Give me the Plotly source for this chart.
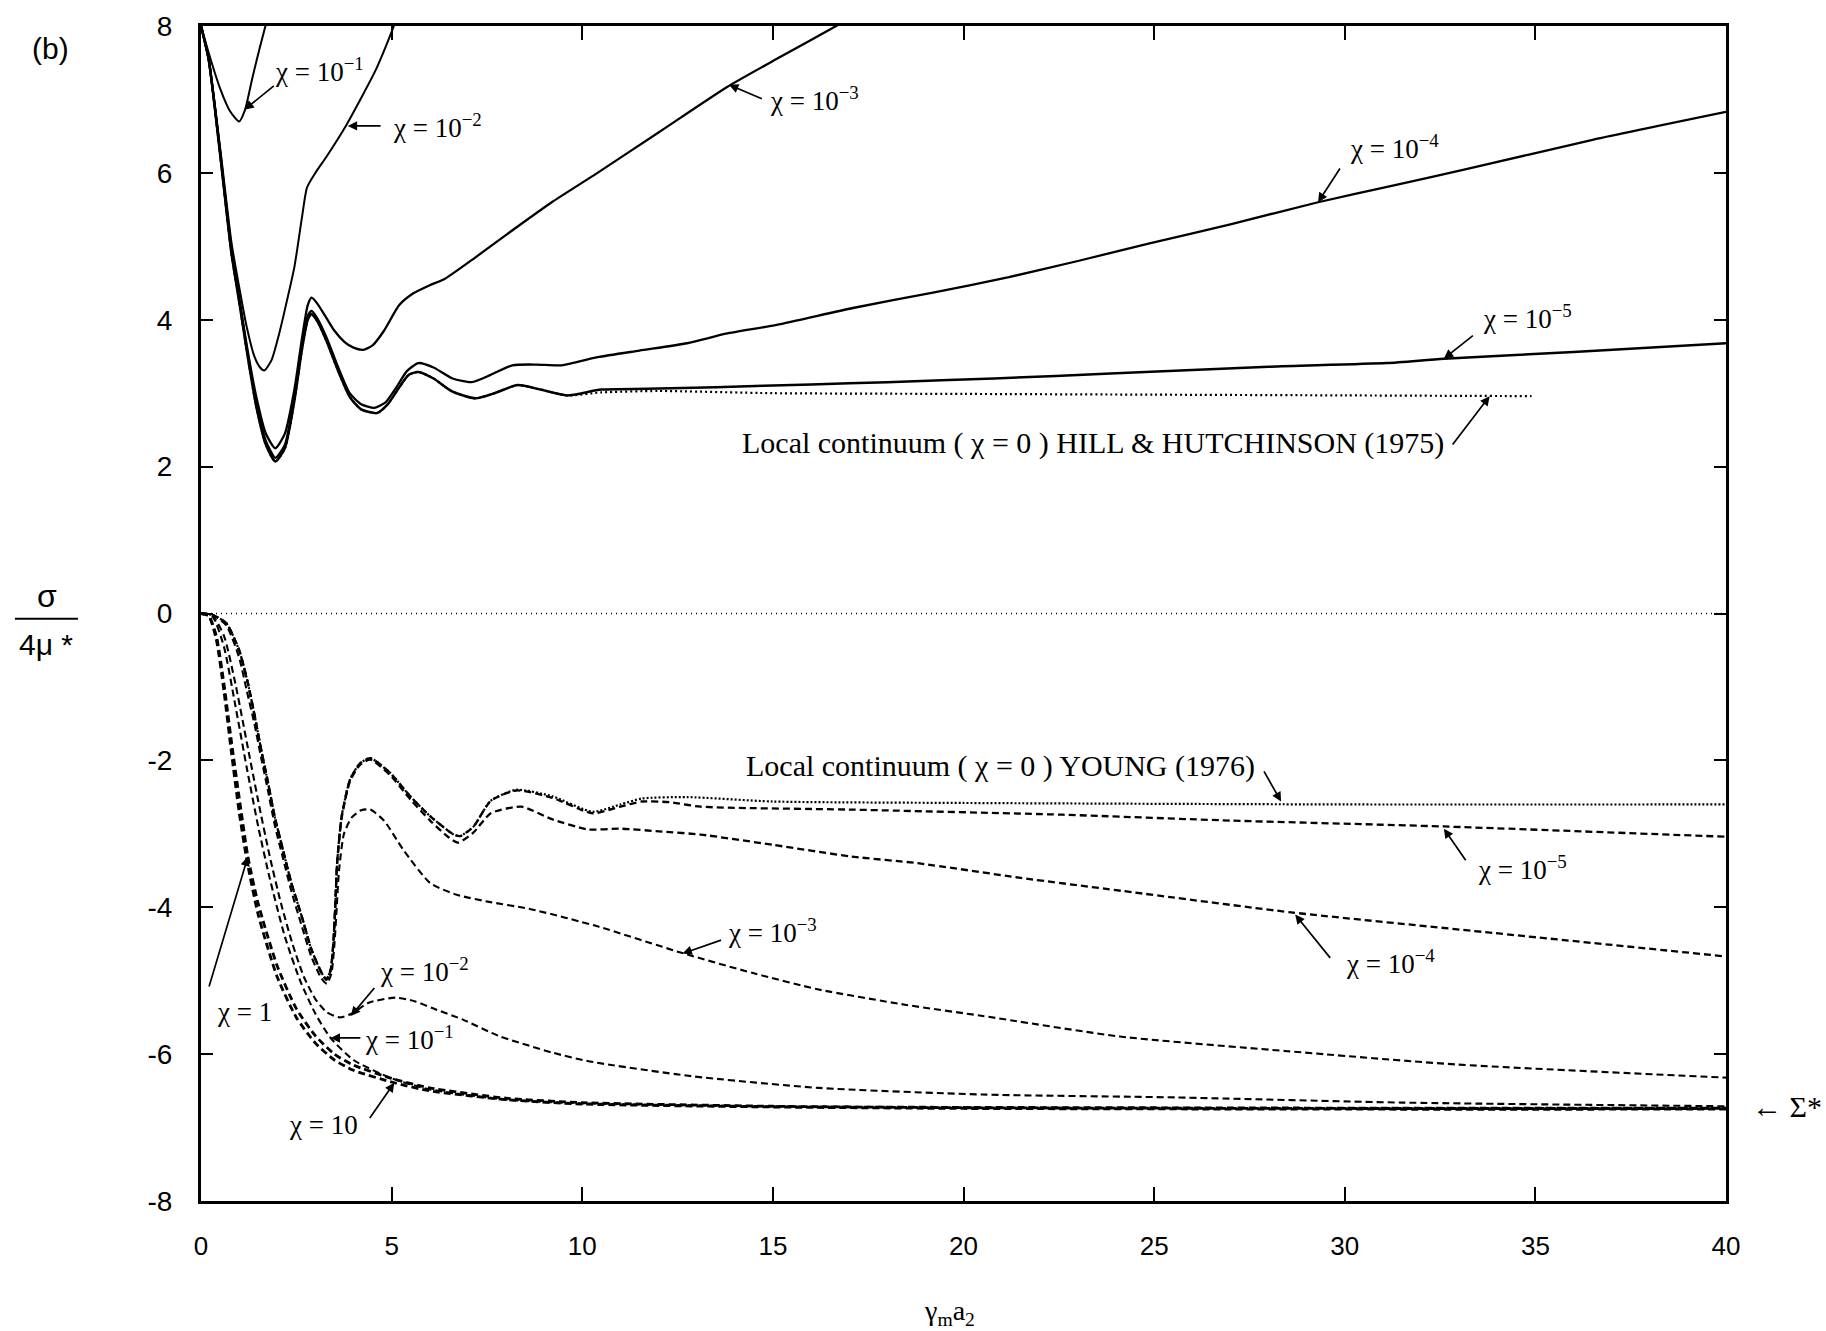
import plotly.graph_objects as go

# ---------------- data ----------------
x_ticks = [0, 5, 10, 15, 20, 25, 30, 35, 40]
x_tick_labels = ["0", "5", "10", "15", "20", "25", "30", "35", "40"]
y_ticks = [-8, -6, -4, -2, 0, 2, 4, 6, 8]
y_tick_labels = ["-8", "-6", "-4", "-2", "0", "2", "4", "6", "8"]

# upper branch (solid)
up_c1_x = [0, 0.25, 0.5, 0.75, 1.0, 1.15, 1.35, 1.55, 1.74]
up_c1_y = [8, 7.55, 7.15, 6.85, 6.7, 6.85, 7.3, 7.72, 8.1]

up_c2_x = [0, 0.2, 0.5, 0.8, 1.0, 1.2, 1.4, 1.55, 1.66, 1.85, 2.05, 2.25, 2.45, 2.65, 2.78, 3.0, 3.29, 3.81, 4.6, 5.03, 5.2]
up_c2_y = [8, 7.55, 6.35, 5.05, 4.45, 3.9, 3.5, 3.35, 3.31, 3.45, 3.81, 4.25, 4.72, 5.4, 5.8, 6.0, 6.22, 6.65, 7.42, 7.96, 8.2]

up_c3_x = [0, 0.2, 0.5, 0.8, 1.0, 1.2, 1.45, 1.7, 1.95, 2.2, 2.45, 2.65, 2.8, 2.9, 3.05, 3.26, 3.5, 3.76, 4.0, 4.25, 4.5, 4.8, 5.2, 5.57, 6.0, 6.4, 7.2, 8.04, 9.2, 10.4, 12.0, 13.8, 15.2, 16.66, 17.0]
up_c3_y = [8, 7.55, 6.3, 4.95, 4.3, 3.65, 2.95, 2.45, 2.25, 2.45, 3.05, 3.75, 4.2, 4.3, 4.22, 4.05, 3.85, 3.7, 3.62, 3.59, 3.65, 3.85, 4.2, 4.36, 4.47, 4.56, 4.85, 5.17, 5.6, 6.0, 6.55, 7.17, 7.58, 8.0, 8.1]

up_c4_x = [0, 0.2, 0.5, 0.8, 1.0, 1.2, 1.45, 1.7, 1.95, 2.2, 2.45, 2.65, 2.8, 2.9, 3.05, 3.3, 3.6, 3.9, 4.2, 4.55, 4.85, 5.15, 5.4, 5.7, 6.1, 6.6, 7.1, 7.6, 8.17, 8.8, 9.46, 10.4, 11.5, 12.75, 13.77, 15.1, 17.1, 19.2, 21.19, 23.0, 24.88, 27.0, 29.3, 31.2, 33.1, 36.5, 40]
up_c4_y = [8, 7.55, 6.28, 4.92, 4.28, 3.62, 2.88, 2.35, 2.12, 2.3, 2.95, 3.65, 4.05, 4.12, 4.02, 3.75, 3.35, 3.0, 2.85, 2.8, 2.88, 3.1, 3.3, 3.41, 3.35, 3.2, 3.15, 3.25, 3.38, 3.39, 3.38, 3.49, 3.58, 3.68, 3.81, 3.93, 4.16, 4.37, 4.58, 4.8, 5.04, 5.3, 5.6, 5.82, 6.04, 6.45, 6.83]

up_c5_x = [0, 0.2, 0.5, 0.8, 1.0, 1.2, 1.45, 1.7, 1.95, 2.2, 2.45, 2.65, 2.8, 2.9, 3.05, 3.3, 3.6, 3.9, 4.2, 4.62, 4.9, 5.2, 5.45, 5.7, 6.1, 6.6, 7.2, 7.7, 8.3, 8.9, 9.6, 10.5, 11.7, 13.5, 16, 18, 20.8, 24, 28, 31.1, 32.6, 36, 40]
up_c5_y = [8, 7.55, 6.26, 4.9, 4.25, 3.58, 2.82, 2.3, 2.07, 2.25, 2.9, 3.6, 4.0, 4.08, 3.98, 3.7, 3.3, 2.95, 2.78, 2.73, 2.85, 3.08, 3.25, 3.29, 3.2, 3.02, 2.93, 3.0, 3.11, 3.05, 2.97, 3.05, 3.06, 3.08, 3.12, 3.15, 3.2, 3.27, 3.36, 3.41, 3.47, 3.56, 3.68]

hill_x = [0, 0.2, 0.5, 0.8, 1.0, 1.2, 1.45, 1.7, 1.95, 2.2, 2.45, 2.65, 2.8, 2.9, 3.05, 3.3, 3.6, 3.9, 4.2, 4.62, 4.9, 5.2, 5.45, 5.7, 6.1, 6.6, 7.2, 7.7, 8.3, 8.9, 9.6, 10.5, 12, 15, 20, 25, 30, 34.9]
hill_y = [8, 7.55, 6.26, 4.9, 4.25, 3.58, 2.82, 2.3, 2.07, 2.25, 2.9, 3.6, 4.0, 4.08, 3.98, 3.7, 3.3, 2.95, 2.78, 2.73, 2.85, 3.08, 3.25, 3.29, 3.2, 3.02, 2.93, 3.0, 3.11, 3.05, 2.97, 3.01, 3.03, 3.0, 2.99, 2.98, 2.97, 2.96]

# lower branch (dashed)
zero_x = [0, 40]
zero_y = [0, 0]

young_x = [0, 0.3, 0.66, 1.0, 1.23, 1.41, 1.58, 1.76, 1.93, 2.15, 2.37, 2.64, 2.9, 3.16, 3.29, 3.4, 3.47, 3.52, 3.57, 3.69, 3.91, 4.17, 4.44, 4.96, 5.49, 6.01, 6.63, 6.8, 7.15, 7.6, 8.27, 9.22, 10.27, 11.0, 11.56, 12.75, 15, 20, 30, 40]
young_y = [0, -0.02, -0.13, -0.5, -0.95, -1.4, -1.86, -2.31, -2.76, -3.22, -3.67, -4.12, -4.58, -4.89, -4.98, -4.85, -4.5, -4.0, -3.4, -2.76, -2.26, -2.04, -1.97, -2.17, -2.49, -2.76, -3.01, -3.03, -2.9, -2.55, -2.4, -2.49, -2.7, -2.6, -2.52, -2.5, -2.56, -2.58, -2.6, -2.6]

lo_c5_x = [0, 0.3, 0.66, 1.0, 1.23, 1.41, 1.58, 1.76, 1.93, 2.15, 2.37, 2.64, 2.9, 3.16, 3.29, 3.4, 3.47, 3.52, 3.57, 3.69, 3.91, 4.17, 4.44, 4.96, 5.49, 6.01, 6.63, 6.8, 7.15, 7.6, 8.27, 9.22, 10.27, 11.0, 11.56, 12.3, 13.1, 17, 22.6, 27, 32.6, 40]
lo_c5_y = [0, -0.02, -0.13, -0.5, -0.95, -1.4, -1.86, -2.31, -2.76, -3.22, -3.67, -4.12, -4.58, -4.89, -4.98, -4.85, -4.5, -4.0, -3.4, -2.76, -2.26, -2.04, -1.97, -2.17, -2.49, -2.76, -3.01, -3.03, -2.9, -2.55, -2.41, -2.51, -2.72, -2.63, -2.56, -2.57, -2.63, -2.67, -2.74, -2.82, -2.9, -3.04]

lo_c4_x = [0, 0.3, 0.66, 1.0, 1.23, 1.41, 1.58, 1.76, 1.93, 2.15, 2.37, 2.64, 2.9, 3.16, 3.29, 3.4, 3.47, 3.52, 3.57, 3.69, 3.91, 4.17, 4.44, 4.96, 5.49, 6.01, 6.5, 6.75, 7.15, 7.6, 8.4, 9.2, 10.15, 11.0, 12.1, 13.1, 15, 17.07, 18.8, 21.5, 24.5, 28.6, 33.9, 40]
lo_c4_y = [0, -0.02, -0.13, -0.5, -0.95, -1.4, -1.86, -2.31, -2.76, -3.22, -3.67, -4.12, -4.58, -4.89, -4.99, -4.86, -4.5, -4.0, -3.4, -2.78, -2.28, -2.06, -1.99, -2.2, -2.53, -2.82, -3.05, -3.12, -2.98, -2.72, -2.63, -2.8, -2.94, -2.93, -2.97, -3.01, -3.15, -3.31, -3.4, -3.6, -3.8, -4.07, -4.35, -4.67]

lo_c3_x = [0, 0.3, 0.66, 1.0, 1.2, 1.4, 1.58, 1.76, 1.93, 2.15, 2.37, 2.64, 2.9, 3.16, 3.3, 3.42, 3.5, 3.56, 3.62, 3.75, 3.95, 4.2, 4.44, 4.8, 5.31, 6.01, 6.71, 7.59, 8.6, 10.4, 12.6, 14.5, 16.2, 18.5, 20.5, 24.1, 28.5, 32.9, 40]
lo_c3_y = [0, -0.02, -0.16, -0.6, -1.05, -1.5, -1.97, -2.42, -2.87, -3.33, -3.78, -4.25, -4.68, -4.97, -5.04, -4.9, -4.5, -4.0, -3.5, -3.0, -2.78, -2.68, -2.67, -2.82, -3.22, -3.67, -3.83, -3.93, -4.02, -4.26, -4.62, -4.9, -5.12, -5.33, -5.48, -5.76, -5.96, -6.14, -6.32]

lo_c2_x = [0, 0.3, 0.6, 0.9, 1.2, 1.5, 1.8, 2.1, 2.4, 2.7, 3.0, 3.3, 3.64, 3.95, 4.4, 5.1, 5.6, 6.1, 6.87, 7.8, 9.22, 10.2, 12.86, 16.2, 20.5, 25.6, 31.5, 40]
lo_c2_y = [0, -0.03, -0.3, -0.95, -1.75, -2.55, -3.3, -3.95, -4.5, -4.95, -5.25, -5.43, -5.5, -5.45, -5.3, -5.23, -5.28, -5.38, -5.53, -5.75, -5.98, -6.1, -6.3, -6.46, -6.55, -6.59, -6.66, -6.71]

lo_c1_x = [0, 0.3, 0.6, 0.9, 1.2, 1.5, 1.8, 2.2, 2.6, 3.0, 3.4, 4.0, 5.0, 6.0, 8.0, 10, 15, 20, 30, 40]
lo_c1_y = [0, -0.04, -0.45, -1.25, -2.1, -2.9, -3.6, -4.4, -5.0, -5.45, -5.78, -6.08, -6.33, -6.48, -6.62, -6.67, -6.71, -6.72, -6.73, -6.73]

lo_one_x = [0, 0.2, 0.4, 0.6, 0.8, 1.0, 1.23, 1.5, 2.0, 2.5, 3.0, 3.5, 4.0, 5.0, 6, 8, 10, 15, 20, 30, 40]
lo_one_y = [0, -0.03, -0.3, -0.95, -1.75, -2.5, -3.31, -3.95, -4.8, -5.38, -5.75, -6.0, -6.15, -6.33, -6.46, -6.6, -6.66, -6.71, -6.73, -6.74, -6.74]

lo_ten_x = [0, 0.2, 0.4, 0.6, 0.8, 1.0, 1.2, 1.5, 2.0, 2.5, 3.0, 3.5, 4.0, 5.07, 6, 8, 10, 15, 20, 30, 40]
lo_ten_y = [0, -0.03, -0.35, -1.05, -1.9, -2.7, -3.35, -4.1, -4.95, -5.5, -5.85, -6.08, -6.22, -6.39, -6.5, -6.62, -6.68, -6.72, -6.74, -6.75, -6.75]

# labels: (text, size, text_x, text_y, arrow_tail_x, arrow_tail_y, arrow_head_x, arrow_head_y)
chi_labels = [
    ("χ = 10<sup>−1</sup>", 27, 3.1, 7.4, 1.95, 7.2, 1.14, 6.86),
    ("χ = 10<sup>−2</sup>", 27, 6.2, 6.64, 4.75, 6.64, 3.85, 6.64),
    ("χ = 10<sup>−3</sup>", 27, 16.1, 7.0, 14.75, 7.0, 13.85, 7.2),
    ("χ = 10<sup>−4</sup>", 27, 31.3, 6.35, 29.9, 6.08, 29.3, 5.6),
    ("χ = 10<sup>−5</sup>", 27, 34.8, 4.04, 33.4, 3.8, 32.6, 3.47),
    ("Local continuum ( χ = 0 ) HILL &amp; HUTCHINSON (1975)", 30, 23.4, 2.32, 32.8, 2.28, 33.8, 2.96),
    ("Local continuum ( χ = 0 ) YOUNG (1976)", 30, 20.97, -2.08, 27.86, -2.13, 28.33, -2.56),
    ("χ = 10<sup>−5</sup>", 27, 34.65, -3.46, 33.2, -3.38, 32.6, -2.93),
    ("χ = 10<sup>−4</sup>", 27, 31.2, -4.75, 29.65, -4.71, 28.7, -4.1),
    ("χ = 10<sup>−3</sup>", 27, 15.0, -4.33, 13.68, -4.44, 12.63, -4.63),
    ("χ = 10<sup>−2</sup>", 27, 5.87, -4.85, 4.58, -5.08, 3.93, -5.48),
    ("χ = 10<sup>−1</sup>", 27, 5.46, -5.78, 4.22, -5.78, 3.4, -5.78),
    ("χ = 1", 27, 1.15, -5.43, 0.2, -5.1, 1.23, -3.31),
    ("χ = 10", 27, 3.22, -6.96, 4.4, -6.89, 5.07, -6.39),
]

# ---------------- figure ----------------
fig = go.Figure()


def add_line(x, y, dash="solid", width=2.0):
    fig.add_trace(go.Scatter(
        x=x, y=y, mode="lines", showlegend=False, hoverinfo="skip",
        line=dict(color="black", width=width, dash=dash, shape="spline", smoothing=0.6),
    ))


add_line(zero_x, zero_y, dash="1px,4px", width=1.4)
add_line(up_c1_x, up_c1_y, width=2.0)
add_line(up_c2_x, up_c2_y, width=2.0)
add_line(up_c3_x, up_c3_y, width=2.3)
add_line(up_c4_x, up_c4_y, width=2.3)
add_line(up_c5_x, up_c5_y, width=2.5)
add_line(hill_x, hill_y, dash="2px,3px", width=2.2)

dash_pat = "7px,4px"
add_line(young_x, young_y, dash="2px,2px", width=2.2)
add_line(lo_c5_x, lo_c5_y, dash=dash_pat, width=2.3)
add_line(lo_c4_x, lo_c4_y, dash=dash_pat, width=2.3)
add_line(lo_c3_x, lo_c3_y, dash=dash_pat, width=2.1)
add_line(lo_c2_x, lo_c2_y, dash=dash_pat, width=2.1)
add_line(lo_c1_x, lo_c1_y, dash=dash_pat, width=2.1)
add_line(lo_one_x, lo_one_y, dash=dash_pat, width=2.8)
add_line(lo_ten_x, lo_ten_y, dash=dash_pat, width=2.8)

serif = "Liberation Serif"
sans = "Liberation Sans"
annotations = []
for text, size, tx, ty, axx, ayy, hx, hy in chi_labels:
    annotations.append(dict(
        x=tx, y=ty, xref="x", yref="y", text=text, showarrow=False,
        font=dict(family=serif, size=size, color="black"), xanchor="center", yanchor="middle",
    ))
    annotations.append(dict(
        x=hx, y=hy, xref="x", yref="y", ax=axx, ay=ayy, axref="x", ayref="y",
        text="", showarrow=True, arrowhead=2, arrowsize=1.1, arrowwidth=1.7, arrowcolor="black",
    ))

# outside-plot texts (paper coordinates)
annotations += [
    dict(x=-0.099, y=0.981, xref="paper", yref="paper", text="(b)", showarrow=False,
         font=dict(family=sans, size=30, color="black"), xanchor="center", yanchor="middle"),
    dict(x=-0.101, y=0.515, xref="paper", yref="paper", text="σ", showarrow=False,
         font=dict(family=sans, size=32, color="black"), xanchor="center", yanchor="middle"),
    dict(x=-0.1015, y=0.474, xref="paper", yref="paper", text="4μ *", showarrow=False,
         font=dict(family=sans, size=30, color="black"), xanchor="center", yanchor="middle"),
    dict(x=0.4905, y=-0.095, xref="paper", yref="paper", text="γ<sub>m</sub>a<sub>2</sub>", showarrow=False,
         font=dict(family=serif, size=28, color="black"), xanchor="center", yanchor="middle"),
    dict(x=1.016, y=0.0802, xref="paper", yref="paper", text="← Σ*", showarrow=False,
         font=dict(family=serif, size=30, color="black"), xanchor="left", yanchor="middle"),
]

fig.update_layout(
    width=1826, height=1331,
    margin=dict(l=201, r=100, t=26, b=130),
    paper_bgcolor="white", plot_bgcolor="white",
    annotations=annotations,
    shapes=[dict(type="line", xref="paper", yref="paper", x0=-0.122, x1=-0.0807, y0=0.4955, y1=0.4955,
                 line=dict(color="black", width=2))],
)
fig.update_xaxes(
    range=[0, 40], tickmode="array", tickvals=x_ticks, ticktext=x_tick_labels,
    ticks="inside", ticklen=14, tickwidth=2, tickcolor="black",
    showline=True, linewidth=3, linecolor="black", mirror="ticks",
    showgrid=False, zeroline=False, ticklabelstandoff=20,
    tickfont=dict(family=sans, size=26, color="black"),
)
fig.update_yaxes(
    range=[-8, 8], tickmode="array", tickvals=y_ticks, ticktext=y_tick_labels,
    ticks="inside", ticklen=12, tickwidth=2, tickcolor="black",
    showline=True, linewidth=3, linecolor="black", mirror="ticks",
    showgrid=False, zeroline=False, ticklabelstandoff=20,
    tickfont=dict(family=sans, size=28, color="black"),
)

fig.write_html("out.html")
